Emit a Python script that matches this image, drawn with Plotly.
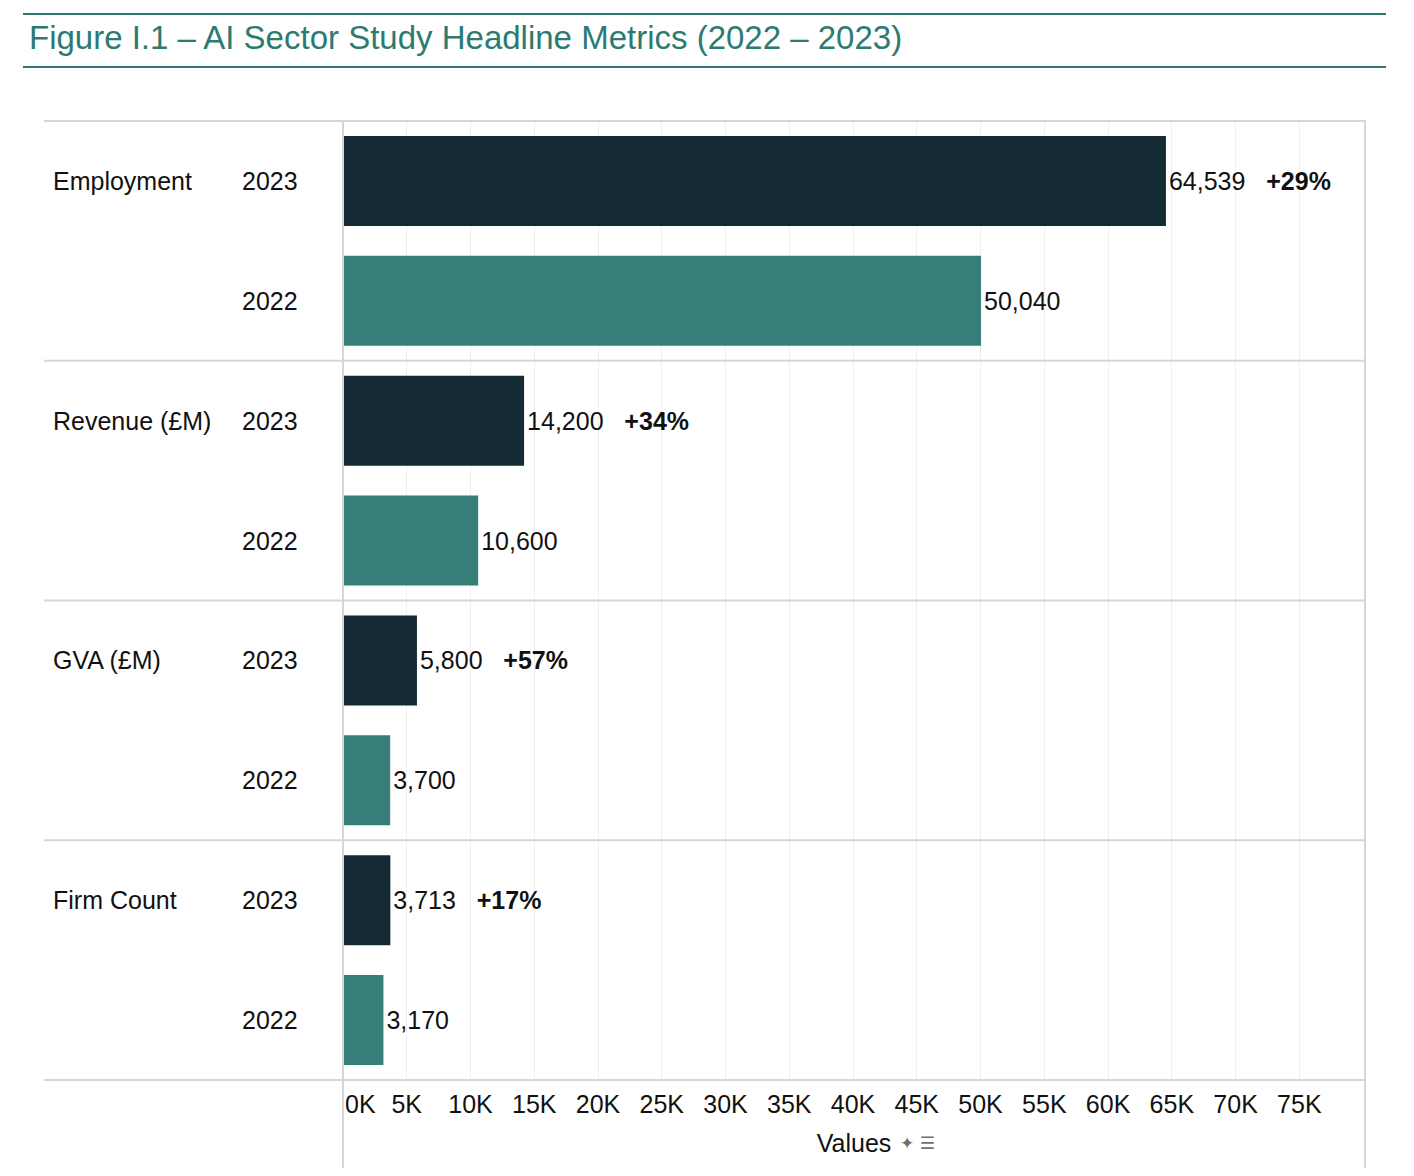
import plotly.graph_objects as go

# data
metrics = ["Employment", "Revenue (£M)", "GVA (£M)", "Firm Count"]
years = ["2023", "2022"]
values_2023 = [64539, 14200, 5800, 3713]
values_2022 = [50040, 10600, 3700, 3170]
growth = ["+29%", "+34%", "+57%", "+17%"]
tick_values = [0, 5000, 10000, 15000, 20000, 25000, 30000, 35000,
               40000, 45000, 50000, 55000, 60000, 65000, 70000, 75000]
tick_labels = ["0K", "5K", "10K", "15K", "20K", "25K", "30K", "35K",
               "40K", "45K", "50K", "55K", "60K", "65K", "70K", "75K"]

DARK = "#152b33"
TEAL = "#387e78"
TITLE_TEAL = "#2c7a72"
RULE = "#d6d6d6"
FONT = "Liberation Sans, Arial, sans-serif"

# the page body adds an 8px margin, so the figure is drawn 8px in from the corner
BODY = 8
W, H = 1398, 1160
L, T = 343 - BODY, 120 - BODY
R = W - (1365 - BODY)
B = H - (1081 - BODY)
plot_w = W - L - R
plot_h = H - T - B


def px_x(px):
    """page pixel column -> paper x"""
    return (px - BODY - L) / plot_w


def px_y(py):
    """page pixel row -> paper y"""
    return (H - B - (py - BODY)) / plot_h


rows = []
for m in metrics:
    for yr in years:
        rows.append(f"{m}|{yr}")

keys_2023 = [f"{m}|2023" for m in metrics]
keys_2022 = [f"{m}|2022" for m in metrics]

fig = go.Figure()

fig.add_trace(go.Bar(
    x=values_2023,
    y=keys_2023,
    orientation="h",
    width=0.75,
    marker=dict(color=DARK, line=dict(width=0)),
    text=[f"{v:,}&nbsp;&nbsp;&nbsp;<b>{g}</b>" for v, g in zip(values_2023, growth)],
    textposition="outside",
    outsidetextfont=dict(family=FONT, size=25, color="#111111"),
    cliponaxis=False,
    hoverinfo="skip",
    showlegend=False,
))

fig.add_trace(go.Bar(
    x=values_2022,
    y=keys_2022,
    orientation="h",
    width=0.75,
    marker=dict(color=TEAL, line=dict(width=0)),
    text=[f"{v:,}" for v in values_2022],
    textposition="outside",
    outsidetextfont=dict(family=FONT, size=25, color="#111111"),
    cliponaxis=False,
    hoverinfo="skip",
    showlegend=False,
))

shapes = []
# horizontal separators between metric groups (top and bottom included)
for i in range(len(metrics) + 1):
    shapes.append(dict(
        type="line", xref="paper", yref="y",
        x0=px_x(44), x1=px_x(1365), y0=i * 2 - 0.5, y1=i * 2 - 0.5,
        line=dict(color=RULE, width=2), layer="above",
    ))
# left and right frame lines, running down past the axis labels
for xp in (343, 1365):
    shapes.append(dict(
        type="line", xref="paper", yref="paper",
        x0=px_x(xp), x1=px_x(xp), y0=px_y(1168), y1=1,
        line=dict(color=RULE, width=2), layer="above",
    ))
# title rules
for yp in (14, 67):
    shapes.append(dict(
        type="line", xref="paper", yref="paper",
        x0=px_x(23), x1=px_x(1386), y0=px_y(yp), y1=px_y(yp),
        line=dict(color=TITLE_TEAL, width=2),
    ))

annotations = [
    dict(
        text="Figure I.1 – AI Sector Study Headline Metrics (2022 – 2023)",
        xref="paper", yref="paper", x=px_x(27), y=px_y(37),
        xanchor="left", yanchor="middle", showarrow=False,
        font=dict(family=FONT, size=33, color=TITLE_TEAL),
    ),
    # first tick label sits inside the axis, as in the original
    dict(
        text=tick_labels[0], xref="x", yref="paper", x=0, y=px_y(1104),
        xanchor="left", yanchor="middle", xshift=0, showarrow=False,
        font=dict(family=FONT, size=25, color="#111111"),
    ),
    # pin / sort icons next to the axis title
    dict(
        text="✦ ☰", xref="paper", yref="paper", x=px_x(898), y=px_y(1143),
        xanchor="left", yanchor="middle", showarrow=False,
        font=dict(family="DejaVu Sans", size=17, color="#707070"),
    ),
]
for m in metrics:
    annotations.append(dict(
        text=m, xref="paper", yref="y", x=px_x(51), y=f"{m}|2023",
        xanchor="left", yanchor="middle", showarrow=False,
        font=dict(family=FONT, size=25, color="#111111"),
    ))
for key in rows:
    annotations.append(dict(
        text=key.split("|")[1], xref="paper", yref="y", x=px_x(240), y=key,
        xanchor="left", yanchor="middle", showarrow=False,
        font=dict(family=FONT, size=25, color="#111111"),
    ))

fig.update_layout(
    width=W,
    height=H,
    margin=dict(l=L, r=R, t=T, b=B, pad=0),
    paper_bgcolor="white",
    plot_bgcolor="white",
    font=dict(family=FONT, size=25, color="#111111"),
    barmode="overlay",
    shapes=shapes,
    annotations=annotations,
    xaxis=dict(
        range=[0, 80150],
        tickvals=tick_values,
        ticktext=[""] + tick_labels[1:],
        showgrid=True,
        gridcolor="#efefef",
        gridwidth=1,
        zeroline=False,
        showline=False,
        ticks="",
        ticklabelstandoff=6,
        tickfont=dict(family=FONT, size=25, color="#111111"),
        title=dict(text="Values", standoff=17,
                   font=dict(family=FONT, size=25, color="#111111")),
        fixedrange=True,
    ),
    yaxis=dict(
        type="category",
        categoryorder="array",
        categoryarray=rows,
        autorange="reversed",
        showticklabels=False,
        showgrid=False,
        zeroline=False,
        showline=False,
        ticks="",
        fixedrange=True,
    ),
)

fig.write_html("out.html")
